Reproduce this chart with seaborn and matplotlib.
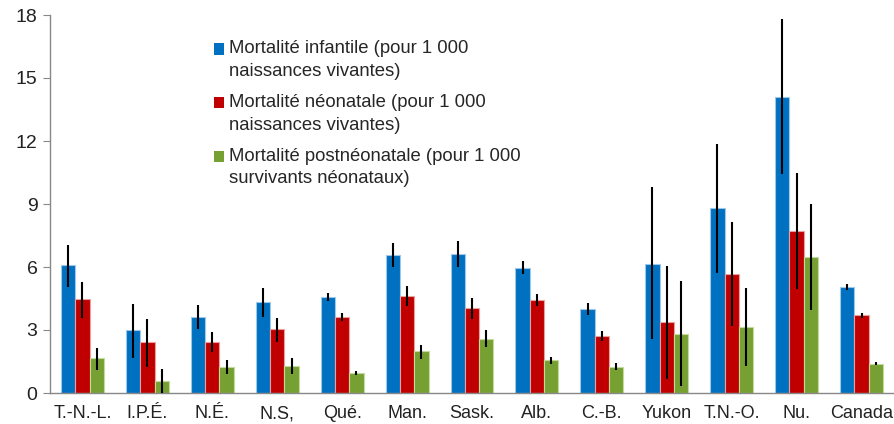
import numpy as np
import pandas as pd
import matplotlib.pyplot as plt
import seaborn as sns
from matplotlib.patches import Patch, Rectangle
from matplotlib.legend_handler import HandlerPatch

provinces = ["T.-N.-L.", "I.P.É.", "N.É.", "N.S,", "Qué.", "Man.", "Sask.", "Alb.",
             "C.-B.", "Yukon", "T.N.-O.", "Nu.", "Canada"]

infant = [6.1, 3.0, 3.64, 4.32, 4.58, 6.57, 6.62, 5.97, 3.99, 6.16, 8.8, 14.1, 5.07]
infant_lo = [5.07, 1.68, 3.05, 3.62, 4.36, 5.98, 5.98, 5.69, 3.73, 2.55, 5.71, 10.41, 4.91]
infant_hi = [7.06, 4.24, 4.18, 5.01, 4.77, 7.16, 7.26, 6.3, 4.29, 9.81, 11.88, 17.83, 5.18]

neonatal = [4.47, 2.41, 2.41, 3.03, 3.61, 4.61, 4.04, 4.44, 2.71, 3.37, 5.68, 7.73, 3.7]
neonatal_lo = [3.59, 1.24, 1.95, 2.43, 3.43, 4.12, 3.54, 4.16, 2.49, 0.69, 3.19, 4.94, 3.57]
neonatal_hi = [5.28, 3.53, 2.9, 3.57, 3.81, 5.1, 4.53, 4.72, 2.95, 6.06, 8.15, 10.46, 3.79]

postneo = [1.65, 0.56, 1.23, 1.28, 0.96, 1.98, 2.58, 1.55, 1.26, 2.8, 3.16, 6.49, 1.39]
postneo_lo = [1.09, 0.0, 0.89, 0.89, 0.86, 1.61, 2.2, 1.39, 1.1, 0.35, 1.27, 3.95, 1.32]
postneo_hi = [2.14, 1.13, 1.56, 1.66, 1.04, 2.28, 3.0, 1.71, 1.42, 5.33, 5.0, 9.01, 1.47]

series = ["Mortalité infantile (pour 1 000\nnaissances vivantes)",
          "Mortalité néonatale (pour 1 000\nnaissances vivantes)",
          "Mortalité postnéonatale (pour 1 000\nsurvivants néonataux)"]
colors = ["#0070C0", "#C00000", "#77A033"]
edges = ["#9CC8EA", "#EBA0A0", "#C2DA9C"]

values = [infant, neonatal, postneo]
lows = [infant_lo, neonatal_lo, postneo_lo]
highs = [infant_hi, neonatal_hi, postneo_hi]

rows = []
for s, v in zip(series, values):
    for p, val in zip(provinces, v):
        rows.append({"prov": p, "serie": s, "val": val})
df = pd.DataFrame(rows)

sns.set_style("white")
plt.rcParams['font.family'] = ['Liberation Sans', 'DejaVu Sans']

fig, ax = plt.subplots(figsize=(8.94, 4.24), dpi=100)
fig.subplots_adjust(left=50/894, right=1.0, top=1-15/424, bottom=1-393/424)

sns.barplot(data=df, x="prov", y="val", hue="serie", palette=colors, saturation=1,
            width=0.66, errorbar=None, ax=ax, legend=False, linewidth=0)

for cont, ec, lo, hi, v in zip(ax.containers, edges, lows, highs, values):
    xs = []
    for bar in cont:
        bar.set_edgecolor(ec)
        bar.set_linewidth(0.8)
        xs.append(bar.get_x() + bar.get_width() / 2)
    v = np.array(v)
    yerr = [v - np.array(lo), np.array(hi) - v]
    ax.errorbar(xs, v, yerr=yerr, fmt="none", ecolor="black", elinewidth=1.5, capsize=0, zorder=5)

ax.set_ylim(0, 18)
ax.set_xlim(-0.5, len(provinces) - 0.5)
ax.set_yticks([0, 3, 6, 9, 12, 15, 18])
ax.set_xlabel("")
ax.set_ylabel("")

ax.set_xticks(np.arange(-0.5, len(provinces), 1.0), minor=True)
ax.tick_params(axis="x", which="major", length=0, labelsize=13, pad=9, colors="#222222")
ax.tick_params(axis="x", which="minor", length=5, color="#888888", width=1)
ax.tick_params(axis="y", length=5, color="#888888", labelsize=14, pad=4, left=True, labelcolor="#222222")

for sp in ["top", "right"]:
    ax.spines[sp].set_visible(False)
for sp in ["left", "bottom"]:
    ax.spines[sp].set_color("#888888")
    ax.spines[sp].set_linewidth(1)


# square marker aligned with the first line of each two-line label
def first_line_square(legend, orig_handle, xdescent, ydescent, width, height, fontsize):
    return Rectangle((-xdescent, -ydescent + 0.6 * fontsize), width, height)


handles = [Patch(facecolor=c, edgecolor="none") for c in colors]
leg = ax.legend(handles, series, loc="upper left", bbox_to_anchor=(0.185, 0.953), frameon=False,
                fontsize=13.3, handlelength=0.55, handleheight=0.55, handletextpad=0.3,
                labelspacing=0.75, borderaxespad=0,
                handler_map={Patch: HandlerPatch(patch_func=first_line_square)})
for t in leg.get_texts():
    t.set_linespacing(1.45)

fig.savefig("out.png", dpi=100)
